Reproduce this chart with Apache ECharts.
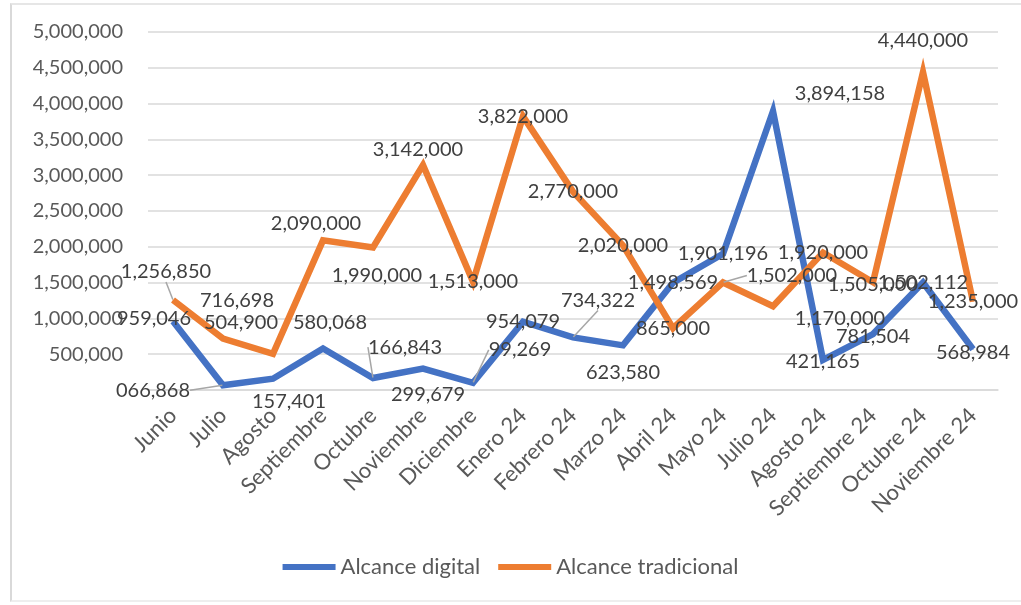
<!DOCTYPE html>
<html>
<head>
<meta charset="utf-8">
<script src="https://cdn.jsdelivr.net/npm/echarts@6/dist/echarts.min.js"></script>
<style>
html,body{margin:0;padding:0;background:#fff;}
#frame{position:absolute;left:10px;top:3px;width:1011px;height:599px;border-left:2px solid #d9d9d9;border-top:2px solid #e6e6e6;border-bottom:2px solid #eeeeee;box-sizing:border-box;}
#chart{position:absolute;left:0;top:0;width:1021px;height:605px;}
</style>
</head>
<body>
<div id="frame"></div>
<div id="chart"></div>
<script>
const categories = ['Junio','Julio','Agosto','Septiembre','Octubre','Noviembre','Diciembre','Enero 24','Febrero 24','Marzo 24','Abril 24','Mayo 24','Julio 24','Agosto 24','Septiembre 24','Octubre 24','Noviembre 24'];
const digital = [959046, 66868, 157401, 580068, 166843, 299679, 99269, 954079, 734322, 623580, 1498569, 1901196, 3894158, 421165, 781504, 1502112, 568984];
const tradicional = [1256850, 716698, 504900, 2090000, 1990000, 3142000, 1513000, 3822000, 2770000, 2020000, 865000, 1502000, 1170000, 1920000, 1505000, 4440000, 1235000];
const digitalLabels = ['959,046','066,868','157,401','580,068','166,843','299,679','99,269','954,079','734,322','623,580','1,498,569','1,901,196','3,894,158','421,165','781,504','1,502,112','568,984'];
const tradicionalLabels = ['1,256,850','716,698','504,900','2,090,000','1,990,000','3,142,000','1,513,000','3,822,000','2,770,000','2,020,000','865,000','1,502,000','1,170,000','1,920,000','1,505,000','4,440,000','1,235,000'];
const seriesNames = ['Alcance digital','Alcance tradicional'];

// label layout (offsets from point, leader flag)
const digitalOffsets = [[-19,-3],[-70,5],[16,23],[7,-26],[32,-31],[5,26],[47,-33],[0,0],[25,-37],[0,27],[0,0],[0,0],[67,-18],[0,2],[0,3],[0,0],[0,3]];
const digitalLeader = [0,1,0,0,1,0,1,0,1,0,0,0,0,0,0,0,0];
const tradOffsets = [[-7,-28],[14,-38],[-32,-31],[-7,-17],[4,28],[-5,-15],[0,0],[0,0],[0,0],[0,0],[0,0],[69,-7],[67,12],[0,0],[0,2],[0,-32],[0,0]];
const tradLeader = [1,0,0,0,0,0,0,0,0,0,0,1,0,0,0,0,0];

const FONT = 'Lato, "Open Sans", sans-serif';
const chart = echarts.init(document.getElementById('chart'));

function buildData(vals, leaders){
  return vals.map((v,i)=>({value:v, labelLine:{show:!!leaders[i], lineStyle:{color:'#a6a6a6', width:1.5}}}));
}
function mkSeries(name, vals, labels, offsets, leaders, color){
  return {
    name: name, type:'line', data: buildData(vals, leaders),
    symbol:'circle', symbolSize:1, showSymbol:true,
    itemStyle:{color:color},
    lineStyle:{color:color, width:6.5, join:'miter'},
    emphasis:{disabled:true},
    label:{show:true, position:'inside', color:'#404040', fontFamily:FONT, fontSize:20,
      formatter:(p)=>labels[p.dataIndex]},
    labelLine:{show:false, lineStyle:{color:'#a6a6a6', width:1.5}},
    labelLayout:(p)=>({dx:offsets[p.dataIndex][0], dy:offsets[p.dataIndex][1], hideOverlap:false}),
    z: 2
  };
}

chart.setOption({
  animation:false,
  backgroundColor:'transparent',
  grid:{left:148, right:23, top:32, bottom:215, containLabel:false},
  legend:{
    bottom:22, left:'center', icon:'rect', itemWidth:53, itemHeight:6, itemGap:18,
    textStyle:{fontFamily:FONT, fontSize:22, color:'#595959'},
    data: seriesNames
  },
  xAxis:{
    type:'category', data:categories, boundaryGap:true,
    axisLine:{show:true, lineStyle:{color:'#d9d9d9', width:1.5}},
    axisTick:{show:false},
    axisLabel:{rotate:45, interval:0, margin:22, fontFamily:FONT, fontSize:22, color:'#595959'}
  },
  yAxis:{
    type:'value', min:0, max:5000000, interval:500000,
    axisLine:{show:false}, axisTick:{show:false},
    splitLine:{lineStyle:{color:'#d9d9d9', width:1.5}},
    axisLabel:{margin:25, fontFamily:FONT, fontSize:20, color:'#595959',
      formatter:(v)=>v===0?'':v.toLocaleString('en-US')}
  },
  series:[
    mkSeries(seriesNames[0], digital, digitalLabels, digitalOffsets, digitalLeader, '#4472C4'),
    mkSeries(seriesNames[1], tradicional, tradicionalLabels, tradOffsets, tradLeader, '#ED7D31')
  ]
});
</script>
</body>
</html>
